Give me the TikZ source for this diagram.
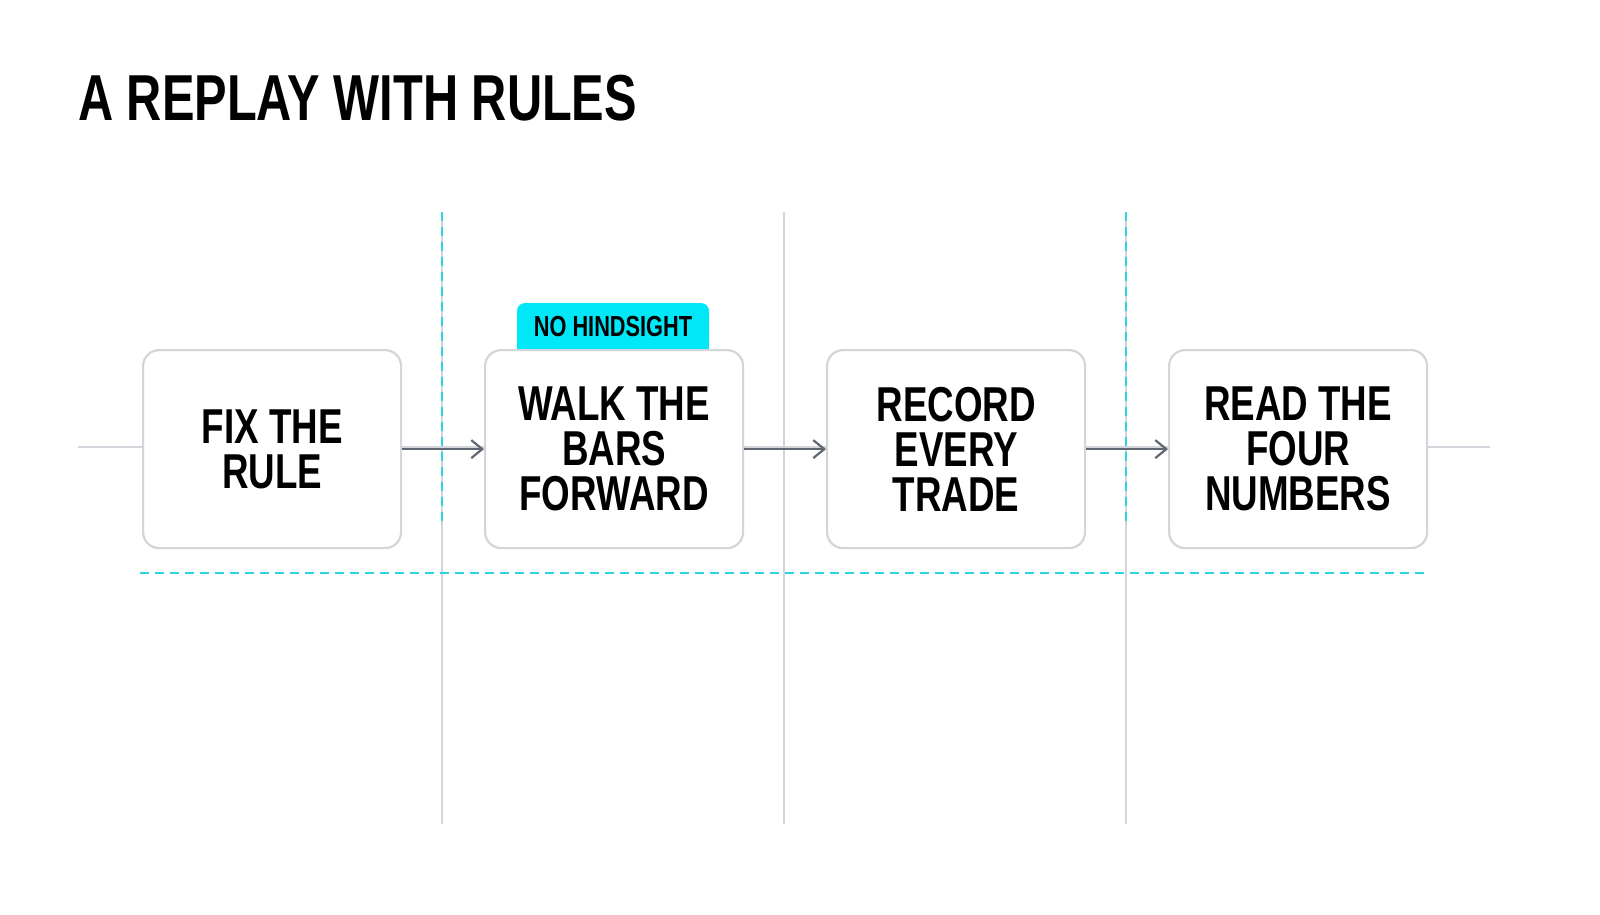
\documentclass[tikz,border=0pt]{standalone}
\usepackage{fontspec}
\setmainfont{Liberation Sans}[FakeStretch=0.75]
\usetikzlibrary{arrows.meta}
\definecolor{cy}{HTML}{2ED3E0}
\definecolor{tagc}{HTML}{00E8F8}
\definecolor{gl}{HTML}{D2D5D9}
\definecolor{ar}{HTML}{5F6773}
\begin{document}
\begin{tikzpicture}[x=1pt,y=-1pt,
  box/.style={draw=gl,line width=2.2pt,rounded corners=16pt,fill=white,minimum width=258pt,minimum height=198pt,anchor=north west,align=center,font=\bfseries\fontsize{49}{45}\selectfont},
  arr/.style={draw=ar,line width=2.2pt,-{Straight Barb[length=11pt,width=18pt]}},
  grid/.style={draw=gl,line width=1.5pt},
  cdash/.style={draw=cy,line width=2.2pt,dash pattern=on 9pt off 6pt}]
\useasboundingbox (0,0) rectangle (1600,914);
\fill[white] (0,0) rectangle (1600,914);
\node[anchor=base west,inner sep=0,font=\bfseries\fontsize{65}{65}\selectfont] (title) at (78,120) {A REPLAY WITH RULES};
\coordinate (hl) at (78,447); \coordinate (hr) at (1490,447);
\draw[grid] (hl) -- (hr);
\foreach \x in {442,784,1126}{\draw[grid] (\x,212) -- (\x,824);}
\draw[cdash] (442,212) -- (442,525);
\draw[cdash] (1126,212) -- (1126,525);
\draw[cdash] (140,573) -- (1428,573);
\fill[tagc,rounded corners=8pt] (517,349) -- (517,303) -- (709,303) -- (709,349) -- cycle;
\fill[tagc] (517,335) rectangle (709,349);
\node[font=\bfseries\fontsize{29}{29}\selectfont,inner sep=0] (tag) at (613,327) {NO HINDSIGHT};
\node[box] (b1) at (142,349) {FIX THE\\RULE};
\node[box] (b2) at (484,349) {WALK THE\\BARS\\FORWARD};
\node[box] (b3) at (826,349) {RECORD\\EVERY\\TRADE};
\node[box] (b4) at (1168,349) {READ THE\\FOUR\\NUMBERS};
\draw[arr] (b1.east) -- (b2.west);
\draw[arr] (b2.east) -- (b3.west);
\draw[arr] (b3.east) -- (b4.west);
\end{tikzpicture}
\end{document}
